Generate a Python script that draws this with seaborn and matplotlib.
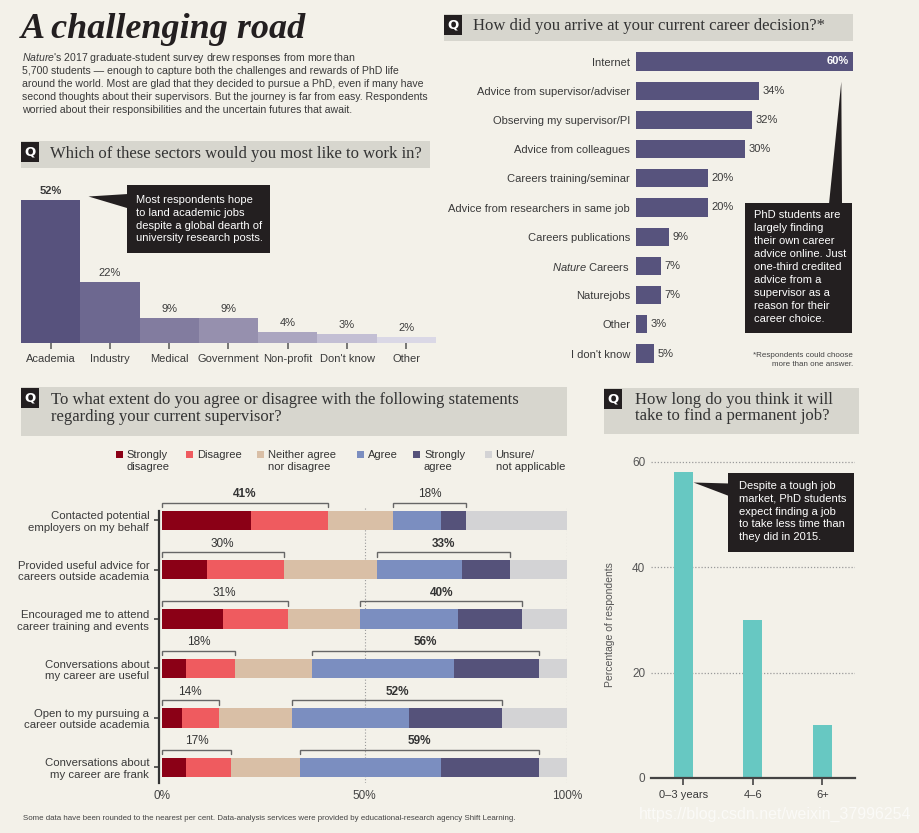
import numpy as np
import pandas as pd
import matplotlib
matplotlib.use("Agg")
import matplotlib.pyplot as plt
from matplotlib.patches import Rectangle, Polygon
import seaborn as sns

# ---------------- data ----------------
sectors = ["Academia", "Industry", "Medical", "Government", "Non-profit", "Don't know", "Other"]
sector_pct = [52, 22, 9, 9, 4, 3, 2]

sources = ["Internet", "Advice from supervisor/adviser", "Observing my supervisor/PI",
           "Advice from colleagues", "Careers training/seminar",
           "Advice from researchers in same job", "Careers publications",
           r"$\it{Nature}$ Careers", "Naturejobs", "Other", "I don't know"]
source_pct = [60, 34, 32, 30, 20, 20, 9, 7, 7, 3, 5]

statements = ["Contacted potential\nemployers on my behalf",
              "Provided useful advice for\ncareers outside academia",
              "Encouraged me to attend\ncareer training and events",
              "Conversations about\nmy career are useful",
              "Open to my pursuing a\ncareer outside academia",
              "Conversations about\nmy career are frank"]
response_levels = ["Strongly\ndisagree", "Disagree", "Neither agree\nnor disagree",
                   "Agree", "Strongly\nagree", "Unsure/\nnot applicable"]
strongly_disagree = [22, 11, 15, 6, 5, 6]
disagree = [19, 19, 16, 12, 9, 11]
neither = [16, 23, 18, 19, 18, 17]
agree = [12, 21, 24, 35, 29, 35]
strongly_agree = [6, 12, 16, 21, 23, 24]
unsure = [25, 14, 11, 7, 16, 7]

job_wait = ["0\u20133 years", "4\u20136", "6+"]
job_wait_pct = [58, 30, 10]

# ---------------- style ----------------
BG = "#F3F1E9"
HEAD = "#D7D6CE"
DARK = "#231F20"
TXT = "#3A3A3A"
sector_colors = ["#57527D", "#6D6890", "#827C9F", "#9690AE", "#ABA6C0", "#C3BFD4", "#DAD8E6"]
purple = "#57537D"
likert_colors = ["#8B0016", "#EF5B5F", "#D9BFA6", "#7B8EC0", "#55527A", "#D3D3D5"]
teal = "#67C8C2"

sns.set_style("white")
plt.rcParams["font.family"] = ["Liberation Sans", "DejaVu Sans"]
plt.rcParams["mathtext.fontset"] = "custom"
plt.rcParams["mathtext.it"] = "Liberation Sans:italic"
plt.rcParams["mathtext.rm"] = "Liberation Sans"
plt.rcParams["axes.facecolor"] = "none"

W, H = 920, 833
fig = plt.figure(figsize=(W / 100, H / 100), dpi=100, facecolor=BG)


def px_rect(x0, y0, x1, y1):
    return [x0 / W, 1 - y1 / H, (x1 - x0) / W, (y1 - y0) / H]


# ---------------- panel 1: sectors ----------------
ax1 = fig.add_axes(px_rect(21, 170, 436, 342.7))
df1 = pd.DataFrame({"sector": sectors, "pct": sector_pct})
sns.barplot(data=df1, x="sector", y="pct", hue="sector", palette=sector_colors,
            width=1.0, saturation=1, linewidth=0, legend=False, ax=ax1)
ax1.set_xlim(-0.5, len(sectors) - 0.5)
ax1.set_ylim(0, (342.7 - 170) / 2.738)
for s in ax1.spines.values():
    s.set_visible(False)
ax1.set_yticks([])
ax1.set_xlabel("")
ax1.set_ylabel("")
ax1.tick_params(axis="x", bottom=True, length=4.5, width=1.1, color="#555",
                pad=3.5, labelsize=8, labelcolor=TXT, direction="out")
for i, v in enumerate(sector_pct):
    ax1.annotate(f"{v}%", xy=(i, v), xytext=(0, 3), textcoords="offset points",
                 ha="center", va="bottom", fontsize=8, color=TXT,
                 fontweight="bold" if v == max(sector_pct) else "normal")

# ---------------- panel 2: career decision ----------------
ax2 = fig.add_axes(px_rect(636, 46.9, 853.3, 368.1))
df2 = pd.DataFrame({"source": sources, "pct": source_pct})
sns.barplot(data=df2, y="source", x="pct", color=purple, orient="h", width=0.63,
            saturation=1, linewidth=0, ax=ax2)
ax2.set_xlim(0, max(source_pct))
ax2.set_ylim(len(sources) - 0.5, -0.5)
for s in ax2.spines.values():
    s.set_visible(False)
ax2.set_xticks([])
ax2.set_xlabel("")
ax2.set_ylabel("")
ax2.tick_params(axis="y", length=0, pad=4.3, labelsize=8, labelcolor=TXT)
for i, v in enumerate(source_pct):
    if v == max(source_pct):
        ax2.annotate(f"{v}%", xy=(v, i), xytext=(-3, 0), textcoords="offset points",
                     ha="right", va="center", fontsize=8, color="white", fontweight="bold")
    else:
        ax2.annotate(f"{v}%", xy=(v, i), xytext=(2.5, 0), textcoords="offset points",
                     ha="left", va="center", fontsize=8, color=TXT)

# ---------------- panel 3: supervisor statements ----------------
ax3 = fig.add_axes(px_rect(162, 495.6, 567, 783))
levels = np.array([strongly_disagree, disagree, neither, agree, strongly_agree, unsure])
cum = np.cumsum(levels, axis=0)
for k in reversed(range(len(response_levels))):
    sns.barplot(x=cum[k], y=statements, orient="h", color=likert_colors[k], width=0.39,
                saturation=1, linewidth=0, ax=ax3, zorder=2)
ax3.set_xlim(0, 100)
ylo = (783 - 520.3) / 49.4
ax3.set_ylim(ylo, -0.5)
for side in ["top", "right", "bottom"]:
    ax3.spines[side].set_visible(False)
ax3.spines["left"].set_position(("outward", 2.2))
ax3.spines["left"].set_bounds((510.7 - 520.3) / 49.4, ylo)
ax3.spines["left"].set_color("#333")
ax3.spines["left"].set_linewidth(1.6)
ax3.set_xticks([0, 50, 100])
ax3.set_xticklabels(["0%", "50%", "100%"])
ax3.tick_params(axis="x", length=0, pad=5, labelsize=8.5, labelcolor="#444")
ax3.tick_params(axis="y", left=True, length=3.5, width=1.1, color="#333", pad=3.5,
                labelsize=8.2, labelcolor=TXT)
ax3.set_xlabel("")
ax3.set_ylabel("")
ax3.vlines([50, 100], (508 - 520.3) / 49.4, ylo, linestyles=(0, (1, 1.8)),
           colors="#9A9A9A", lw=0.8, zorder=0)
for i in range(len(statements)):
    dis = strongly_disagree[i] + disagree[i]
    a0 = dis + neither[i]
    agr = agree[i] + strongly_agree[i]
    yl = i - 0.195 - 8 / 49.4
    drop = 4.5 / 49.4
    for x0, x1, val in [(0, dis, dis), (a0, a0 + agr, agr)]:
        ax3.plot([x0, x0, x1, x1], [yl + drop, yl, yl, yl + drop], color="#666",
                 lw=1.0, clip_on=False, solid_joinstyle="miter")
        ax3.annotate(f"{val}%", xy=((x0 + x1) / 2, yl), xytext=(0, 1.8),
                     textcoords="offset points", ha="center", va="bottom",
                     fontsize=8.5, color="#333",
                     fontweight="bold" if val == max(dis, agr) else "normal",
                     annotation_clip=False)

# ---------------- panel 4: time to permanent job ----------------
ax4 = fig.add_axes(px_rect(650.7, 455, 855, 778))
sns.barplot(x=job_wait, y=job_wait_pct, color=teal, width=0.27, saturation=1,
            linewidth=0, ax=ax4, zorder=2)
ax4.set_xlim(-0.47, 2.47)
ax4.set_ylim(0, (778 - 455) / 5.27)
ax4.set_yticks([0, 20, 40, 60])
ax4.hlines([20, 40, 60], -0.47, 2.47, linestyles=(0, (1, 1.5)), colors="#9A9A9A",
           lw=0.9, zorder=0)
for side in ["top", "right", "left"]:
    ax4.spines[side].set_visible(False)
ax4.spines["bottom"].set_color("#444")
ax4.spines["bottom"].set_linewidth(1.6)
ax4.tick_params(axis="x", bottom=True, length=5, width=1.2, color="#444", pad=3.5,
                labelsize=8, labelcolor=TXT)
ax4.tick_params(axis="y", length=0, pad=4, labelsize=8.5, labelcolor="#555")
ax4.set_xlabel("")
ax4.set_ylabel("Percentage of respondents", fontsize=7.5, color="#555")
ax4.yaxis.set_label_coords(-0.176, 0.474)

# ---------------- overlay: titles, headers, callouts ----------------
ov = fig.add_axes([0, 0, 1, 1], zorder=10)
ov.set_xlim(0, W)
ov.set_ylim(H, 0)
ov.axis("off")

SERIF = "Liberation Serif"

ov.text(21, 38, "A challenging road", fontsize=26, family=SERIF, weight="bold",
        style="italic", va="baseline", ha="left", color=DARK)

intro = [r"$\it{Nature}$'s 2017 graduate-student survey drew responses from more than",
         "5,700 students \u2014 enough to capture both the challenges and rewards of PhD life",
         "around the world. Most are glad that they decided to pursue a PhD, even if many have",
         "second thoughts about their supervisors. But the journey is far from easy. Respondents",
         "worried about their responsibilities and the uncertain futures that await."]
for k, line in enumerate(intro):
    ov.text(22, 58 + 13 * k, line, fontsize=7.6, va="center", ha="left", color=TXT)


def header(x0, y0, x1, y1, lines, tx, ty, dy=16.8):
    ov.add_patch(Rectangle((x0, y0), x1 - x0, y1 - y0, color=HEAD, lw=0))
    ov.add_patch(Rectangle((x0, y0 + 1), 18.5, 20, color=DARK, lw=0))
    ov.text(x0 + 9.25, y0 + 11, "Q", color="white", fontsize=9.5, weight="bold",
            ha="center", va="center", family="DejaVu Sans")
    for k, line in enumerate(lines):
        ov.text(tx, ty + dy * k, line, fontsize=12, family=SERIF, color="#333",
                va="center", ha="left")


header(21, 141, 430, 168, ["Which of these sectors would you most like to work in?"], 50, 153.5)
header(444, 13.5, 853, 41, ["How did you arrive at your current career decision?*"], 473, 25.5)
header(21, 387, 567, 436, ["To what extent do you agree or disagree with the following statements",
                           "regarding your current supervisor?"], 50.7, 400)
header(604, 388, 858.7, 434, ["How long do you think it will",
                              "take to find a permanent job?"], 635, 399.5)


def callout(box, tri, lines, tx, ty0, dy):
    x0, y0, x1, y1 = box
    ov.add_patch(Polygon(tri, closed=True, color=DARK, lw=0))
    ov.add_patch(Rectangle((x0, y0), x1 - x0, y1 - y0, color=DARK, lw=0))
    for k, line in enumerate(lines):
        ov.text(tx, ty0 + dy * k, line, fontsize=8, color="white", va="center", ha="left")


callout((127.3, 185, 270, 252.7), [(88.5, 196.5), (128, 194), (128, 208.3)],
        ["Most respondents hope", "to land academic jobs",
         "despite a global dearth of", "university research posts."],
        135.7, 200, 12.8)
callout((745.3, 203.3, 852.3, 333.3), [(829, 204), (842, 204), (841.3, 81.7)],
        ["PhD students are", "largely finding", "their own career", "advice online. Just",
         "one-third credited", "advice from a", "supervisor as a", "reason for their",
         "career choice."],
        754, 215.3, 13)
callout((728.3, 472.7, 854, 552.3), [(693.5, 482.5), (729, 483.5), (729, 496)],
        ["Despite a tough job", "market, PhD students", "expect finding a job",
         "to take less time than", "they did in 2015."],
        739, 486, 12.8)

# legend for panel 3
leg_sq = [115.8, 186, 257, 357, 413, 484.6]
for k, lab in enumerate(response_levels):
    ov.add_patch(Rectangle((leg_sq[k], 451), 7, 7, color=likert_colors[k], lw=0))
    for j, part in enumerate(lab.split("\n")):
        ov.text(leg_sq[k] + 11, 455 + 11.5 * j, part, fontsize=8, color="#333",
                va="center", ha="left")

ov.text(853, 355.7, "*Respondents could choose", fontsize=5.8, ha="right", va="center", color="#444")
ov.text(853, 364.3, "more than one answer.", fontsize=5.8, ha="right", va="center", color="#444")
ov.text(23, 818, "Some data have been rounded to the nearest per cent. Data-analysis services "
        "were provided by educational-research agency Shift Learning.",
        fontsize=5.7, ha="left", va="center", color="#444")
ov.text(639, 814, "https://blog.csdn.net/weixin_37996254", fontsize=11.5, color="white",
        alpha=0.65, ha="left", va="center")

fig.savefig("out.png", dpi=100, facecolor=BG)
